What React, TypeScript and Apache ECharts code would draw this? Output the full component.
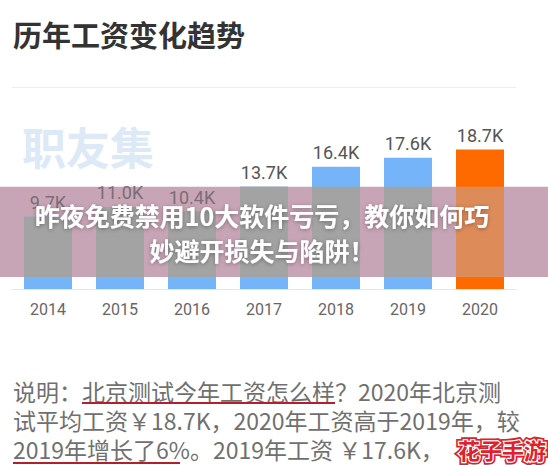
import React, { useEffect, useRef } from "react";
import * as echarts from "echarts";

// ---- data ----
const years: string[] = ["2014", "2015", "2016", "2017", "2018", "2019", "2020"];
const salariesK: number[] = [9.7, 11.0, 10.4, 13.7, 16.4, 17.6, 18.7];
const titleText = "历年工资变化趋势";
const watermarkText = "职友集";
const bannerLines: string[] = ["昨夜免费禁用10大软件亏亏，教你如何巧", "妙避开损失与陷阱！"];
const noteLines: string[] = [
  "说明：北京测试今年工资怎么样？2020年北京测",
  "试平均工资￥18.7K，2020年工资高于2019年，较",
  "2019年增长了6%。2019年工资 ￥17.6K，",
];
const logoText = "花子手游";
// banner overlay band, in value units of the salary axis
const BAND_LOW = 1.6;
const BAND_HIGH = 13.7;

const CJK = '"Noto Sans CJK SC", "Noto Sans", sans-serif';
const BLUE = "#76b4fa";
const ORANGE = "#ff6a00";
const BLUE_IN_BAND = "#a3a3a3";
const ORANGE_IN_BAND = "#de8b5a";
const MAUVE = "#c8a5b6";

export default function App() {
  const ref = useRef<HTMLDivElement>(null);
  useEffect(() => {
    if (!ref.current) return;
    const chart = echarts.init(ref.current, null, { renderer: "svg" });
    const last = salariesK.length - 1;
    const option: any = {
      animation: false,
      backgroundColor: "#ffffff",
      grid: { left: 12, right: 32, top: 139.8, bottom: 176 },
      xAxis: {
        type: "category",
        data: years,
        axisLine: { lineStyle: { color: "#e6e6e6", width: 1 } },
        axisTick: { show: false },
        axisLabel: { color: "#666666", fontSize: 16, fontFamily: "Roboto", margin: 12 },
      },
      yAxis: { type: "value", min: 0, max: 20, show: false, splitLine: { show: false } },
      series: [
        {
          type: "bar",
          name: "salary",
          barWidth: 48,
          barGap: "-100%",
          z: 2,
          data: salariesK.map((v, i) => ({
            value: v,
            itemStyle: { color: i === last ? ORANGE : BLUE },
            label: { color: v < BAND_HIGH ? "#7b6d74" : "#555555" },
          })),
          label: {
            show: true,
            position: "top",
            distance: 5,
            fontSize: 18,
            fontFamily: "Roboto",
            formatter: (p: any) => Number(p.value).toFixed(1) + "K",
          },
        },
        {
          type: "bar",
          stack: "band",
          barWidth: 48,
          barGap: "-100%",
          z: 3,
          silent: true,
          itemStyle: { color: "rgba(0,0,0,0)" },
          data: salariesK.map((v) => Math.min(v, BAND_LOW)),
        },
        {
          type: "bar",
          stack: "band",
          barWidth: 48,
          barGap: "-100%",
          z: 3,
          silent: true,
          data: salariesK.map((v, i) => ({
            value: Math.max(0, Math.min(v, BAND_HIGH) - BAND_LOW),
            itemStyle: { color: i === last ? ORANGE_IN_BAND : BLUE_IN_BAND },
          })),
        },
      ],
    };
    chart.setOption(option);

    const yTop = chart.convertToPixel({ gridIndex: 0 } as any, [0, BAND_HIGH])[1];
    const yBot = chart.convertToPixel({ gridIndex: 0 } as any, [0, BAND_LOW])[1];

    chart.setOption({
      graphic: [
        {
          type: "text",
          x: 13,
          y: 34,
          z: 10,
          style: {
            text: titleText,
            fill: "#333333",
            font: `bold 29px ${CJK}`,
            textVerticalAlign: "middle",
          },
        },
        {
          type: "line",
          z: 10,
          shape: { x1: 12, y1: 87.5, x2: 516, y2: 87.5 },
          style: { stroke: "#eeeeee", lineWidth: 1 },
        },
        {
          type: "text",
          x: 22,
          y: 146,
          z: 1,
          style: {
            text: watermarkText,
            fill: "#dde9f6",
            font: `bold 44px ${CJK}`,
            textVerticalAlign: "middle",
          },
        },
        {
          type: "rect",
          z: -10,
          shape: { x: 0, y: yTop, width: 548, height: yBot - yTop },
          style: { fill: MAUVE },
        },
        ...bannerLines.map((t, i) => ({
          type: "text",
          x: 262,
          y: 215 + i * 35,
          z: 100,
          style: {
            text: t,
            fill: "#ffffff",
            font: `bold 25px ${CJK}`,
            textAlign: "center",
            textVerticalAlign: "middle",
            textShadowColor: "rgba(0,0,0,0.35)",
            textShadowBlur: 4,
            textShadowOffsetY: 1,
          },
        })),
        ...noteLines.map((t, i) => ({
          type: "text",
          x: 13,
          y: 391 + i * 29,
          z: 10,
          style: {
            text: t,
            fill: "#707070",
            font: `23px ${CJK}`,
            textVerticalAlign: "middle",
          },
        })),
        {
          type: "line",
          z: 11,
          shape: { x1: 82, y1: 403, x2: 335, y2: 403 },
          style: { stroke: "#b3202b", lineWidth: 2 },
        },
        {
          type: "line",
          z: 11,
          shape: { x1: 13, y1: 463, x2: 180, y2: 463 },
          style: { stroke: "#b3202b", lineWidth: 2 },
        },
        {
          type: "text",
          x: 458,
          y: 449,
          z: 120,
          style: {
            text: logoText,
            fill: "#d9232d",
            stroke: "#d9232d",
            lineWidth: 6,
            font: `bold 22px ${CJK}`,
            textVerticalAlign: "middle",
          },
        },
        {
          type: "text",
          x: 458,
          y: 449,
          z: 121,
          style: {
            text: logoText,
            fill: "#e0202b",
            stroke: "#ffffff",
            lineWidth: 2.5,
            font: `bold 22px ${CJK}`,
            textVerticalAlign: "middle",
          },
        },
      ],
    });

    return () => chart.dispose();
  }, []);
  return (
    <div
      ref={ref}
      style={{ position: "fixed", left: 0, top: 0, width: 548, height: 465 }}
    />
  );
}
